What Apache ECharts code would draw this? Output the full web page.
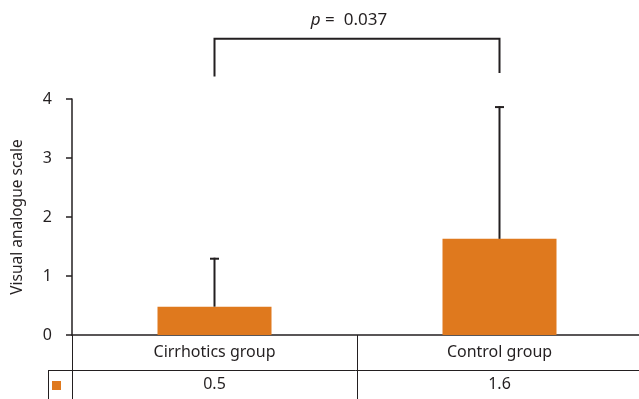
<!DOCTYPE html>
<html>
<head>
<meta charset="utf-8">
<script src="https://cdn.jsdelivr.net/npm/echarts@6/dist/echarts.min.js"></script>
<style>html,body{margin:0;padding:0;background:#fff;}#c{width:639px;height:399px;}</style>
</head>
<body>
<div id="c"></div>
<script>
const categories = ['Cirrhotics group', 'Control group'];
const meanValues = [0.48, 1.63];
const errorTop = [1.31, 3.88];
const tableValues = ['0.5', '1.6'];
const yMin = 0, yMax = 4, yInterval = 1;
const pLabel = '0.037';
// bracket: [leftCat, rightCat, topY, leftBottomY, rightBottomY, textY]
const bracket = [[0, 1, 5.02, 4.38, 4.44, 5.33]];

const ink = '#231f20';
const barColor = '#df791e';
const font = 'Noto Sans';

const chart = echarts.init(document.getElementById('c'), null, {renderer: 'canvas'});
chart.setOption({
  animation: false,
  backgroundColor: '#fff',
  grid: {left: 72, right: -3, top: 99, bottom: 64, containLabel: false, outerBoundsMode: 'none'},
  xAxis: [{
    type: 'category',
    data: categories,
    position: 'bottom',
    axisLine: {lineStyle: {color: ink, width: 1.5}},
    axisTick: {show: true, alignWithLabel: false, length: 64, lineStyle: {color: ink, width: 1}},
    axisLabel: {color: ink, fontFamily: font, fontSize: 16, margin: 9}
  }, {
    type: 'category',
    data: tableValues,
    position: 'bottom',
    offset: 35,
    axisLine: {lineStyle: {color: ink, width: 1}},
    axisTick: {show: false},
    axisLabel: {color: ink, fontFamily: font, fontSize: 16, margin: 6}
  }],
  yAxis: {
    type: 'value', min: yMin, max: yMax, interval: yInterval,
    name: 'Visual analogue scale', nameLocation: 'middle', nameGap: 46,
    nameTextStyle: {color: ink, fontFamily: font, fontSize: 15.5},
    axisLine: {show: true, lineStyle: {color: ink, width: 1.5}},
    axisTick: {show: true, length: 6, lineStyle: {color: ink, width: 1.5}},
    axisLabel: {color: ink, fontFamily: font, fontSize: 16, margin: 20},
    splitLine: {show: false}
  },
  series: [{
    type: 'bar',
    data: meanValues,
    barWidth: '40%',
    itemStyle: {color: barColor},
    z: 2
  }, {
    type: 'custom',
    z: 3,
    data: meanValues.map((v, i) => [i, v, errorTop[i]]),
    renderItem: function (params, api) {
      const b = api.coord([api.value(0), api.value(1)]);
      const t = api.coord([api.value(0), api.value(2)]);
      return {type: 'group', children: [
        {type: 'line', shape: {x1: b[0], y1: b[1], x2: t[0], y2: t[1]}, style: {stroke: ink, lineWidth: 2}},
        {type: 'line', shape: {x1: t[0] - 4.5, y1: t[1] + 1, x2: t[0] + 4.5, y2: t[1] + 1}, style: {stroke: ink, lineWidth: 2}}
      ]};
    }
  }, {
    type: 'custom',
    clip: false,
    z: 3,
    data: bracket,
    renderItem: function (params, api) {
      const lt = api.coord([api.value(0), api.value(2)]);
      const rt = api.coord([api.value(1), api.value(2)]);
      const lb = api.coord([api.value(0), api.value(3)]);
      const rb = api.coord([api.value(1), api.value(4)]);
      const tx = api.coord([api.value(0), api.value(5)]);
      const mid = (lt[0] + rt[0]) / 2 - 8;
      return {type: 'group', children: [
        {type: 'polyline', shape: {points: [lb, lt, rt, rb]}, style: {stroke: ink, lineWidth: 2, fill: null}},
        {type: 'text', x: mid, y: tx[1], style: {
          text: '{i|p} =  ' + pLabel,
          rich: {i: {fontStyle: 'italic', fontFamily: font, fontSize: 17, fill: ink}},
          fontFamily: font, fontSize: 17, fill: ink, align: 'center', verticalAlign: 'middle'
        }}
      ]};
    }
  }],
  graphic: [
    {type: 'line', shape: {x1: 48, y1: 370.5, x2: 72, y2: 370.5}, style: {stroke: ink, lineWidth: 1}},
    {type: 'line', shape: {x1: 48.5, y1: 370, x2: 48.5, y2: 399}, style: {stroke: ink, lineWidth: 1}},
    {type: 'rect', shape: {x: 52, y: 381, width: 9, height: 9}, style: {fill: barColor}}
  ]
});
</script>
</body>
</html>
